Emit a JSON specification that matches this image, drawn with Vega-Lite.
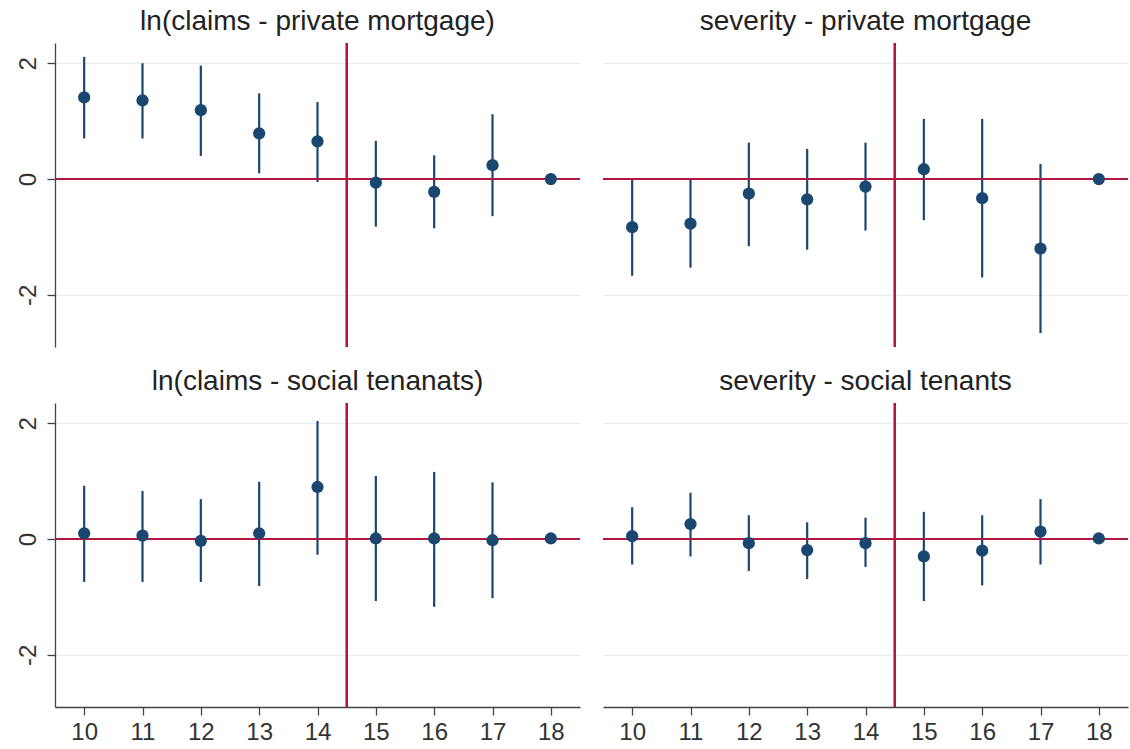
{
  "$schema": "https://vega.github.io/schema/vega-lite/v6.json",
  "autosize": {"type": "pad"},
  "padding": {"left": 16, "top": 8, "right": 0, "bottom": 0},
  "background": "white",
  "data": {"values": [
    {"p": 1, "t": 10, "b": 1.41, "lo": 0.70, "hi": 2.11},
    {"p": 1, "t": 11, "b": 1.36, "lo": 0.70, "hi": 2.00},
    {"p": 1, "t": 12, "b": 1.19, "lo": 0.40, "hi": 1.96},
    {"p": 1, "t": 13, "b": 0.79, "lo": 0.10, "hi": 1.48},
    {"p": 1, "t": 14, "b": 0.65, "lo": -0.05, "hi": 1.33},
    {"p": 1, "t": 15, "b": -0.06, "lo": -0.82, "hi": 0.66},
    {"p": 1, "t": 16, "b": -0.22, "lo": -0.85, "hi": 0.41},
    {"p": 1, "t": 17, "b": 0.24, "lo": -0.64, "hi": 1.12},
    {"p": 1, "t": 18, "b": 0.0, "lo": 0.0, "hi": 0.0},
    {"p": 2, "t": 10, "b": -0.83, "lo": -1.67, "hi": 0.00},
    {"p": 2, "t": 11, "b": -0.77, "lo": -1.53, "hi": 0.00},
    {"p": 2, "t": 12, "b": -0.25, "lo": -1.16, "hi": 0.63},
    {"p": 2, "t": 13, "b": -0.35, "lo": -1.22, "hi": 0.52},
    {"p": 2, "t": 14, "b": -0.13, "lo": -0.89, "hi": 0.63},
    {"p": 2, "t": 15, "b": 0.17, "lo": -0.71, "hi": 1.04},
    {"p": 2, "t": 16, "b": -0.33, "lo": -1.70, "hi": 1.04},
    {"p": 2, "t": 17, "b": -1.20, "lo": -2.66, "hi": 0.26},
    {"p": 2, "t": 18, "b": 0.0, "lo": 0.0, "hi": 0.0},
    {"p": 3, "t": 10, "b": 0.10, "lo": -0.74, "hi": 0.92},
    {"p": 3, "t": 11, "b": 0.06, "lo": -0.74, "hi": 0.83},
    {"p": 3, "t": 12, "b": -0.03, "lo": -0.74, "hi": 0.69},
    {"p": 3, "t": 13, "b": 0.10, "lo": -0.81, "hi": 0.99},
    {"p": 3, "t": 14, "b": 0.90, "lo": -0.27, "hi": 2.04},
    {"p": 3, "t": 15, "b": 0.01, "lo": -1.07, "hi": 1.09},
    {"p": 3, "t": 16, "b": 0.01, "lo": -1.17, "hi": 1.16},
    {"p": 3, "t": 17, "b": -0.02, "lo": -1.02, "hi": 0.98},
    {"p": 3, "t": 18, "b": 0.01, "lo": 0.01, "hi": 0.01},
    {"p": 4, "t": 10, "b": 0.05, "lo": -0.44, "hi": 0.55},
    {"p": 4, "t": 11, "b": 0.26, "lo": -0.30, "hi": 0.80},
    {"p": 4, "t": 12, "b": -0.07, "lo": -0.55, "hi": 0.41},
    {"p": 4, "t": 13, "b": -0.19, "lo": -0.69, "hi": 0.29},
    {"p": 4, "t": 14, "b": -0.07, "lo": -0.48, "hi": 0.37},
    {"p": 4, "t": 15, "b": -0.30, "lo": -1.07, "hi": 0.47},
    {"p": 4, "t": 16, "b": -0.20, "lo": -0.80, "hi": 0.41},
    {"p": 4, "t": 17, "b": 0.13, "lo": -0.44, "hi": 0.69},
    {"p": 4, "t": 18, "b": 0.01, "lo": 0.01, "hi": 0.01}
  ]},
  "columns": 2,
  "spacing": {"row": 20, "column": 21},
  "concat": [
    {
      "title": {"text": "ln(claims - private mortgage)"},
      "width": 525, "height": 304,
      "transform": [{"filter": "datum.p == 1"}],
      "layer": [
        {"mark": {"type": "rule", "color": "#1a476f", "strokeWidth": 2.2},
         "encoding": {
           "x": {"field": "t", "type": "quantitative", "scale": {"domain": [9.5, 18.5], "nice": false, "zero": false},
                 "axis": {"title": null, "domain": false, "ticks": false, "labels": false, "grid": false}},
           "y": {"field": "lo", "type": "quantitative", "scale": {"domain": [-2.9, 2.35], "nice": false, "zero": false},
                 "axis": {"values": [-2, 0, 2], "title": null, "labelExpr": "'' + datum.value", "labelAngle": -90, "labelAlign": "center", "labelBaseline": "bottom", "labelPadding": 7}},
           "y2": {"field": "hi"}
         }},
        {"mark": {"type": "rule", "color": "#b3173f", "strokeWidth": 1.5}, "encoding": {"y": {"datum": 0, "type": "quantitative"}}},
        {"mark": {"type": "rule", "color": "#b3173f", "strokeWidth": 1.5}, "encoding": {"x": {"datum": 14.5, "type": "quantitative"}}},
        {"mark": {"type": "point", "filled": true, "shape": "circle", "size": 150, "color": "#1a476f", "opacity": 1},
         "encoding": {"x": {"field": "t", "type": "quantitative"}, "y": {"field": "b", "type": "quantitative"}}}
      ]
    },
    {
      "title": {"text": "severity - private mortgage"},
      "width": 525, "height": 304,
      "transform": [{"filter": "datum.p == 2"}],
      "layer": [
        {"mark": {"type": "rule", "color": "#1a476f", "strokeWidth": 2.2},
         "encoding": {
           "x": {"field": "t", "type": "quantitative", "scale": {"domain": [9.5, 18.5], "nice": false, "zero": false},
                 "axis": {"title": null, "domain": false, "ticks": false, "labels": false, "grid": false}},
           "y": {"field": "lo", "type": "quantitative", "scale": {"domain": [-2.9, 2.35], "nice": false, "zero": false},
                 "axis": {"values": [-2, 0, 2], "title": null, "domain": false, "ticks": false, "labels": false}},
           "y2": {"field": "hi"}
         }},
        {"mark": {"type": "rule", "color": "#b3173f", "strokeWidth": 1.5}, "encoding": {"y": {"datum": 0, "type": "quantitative"}}},
        {"mark": {"type": "rule", "color": "#b3173f", "strokeWidth": 1.5}, "encoding": {"x": {"datum": 14.5, "type": "quantitative"}}},
        {"mark": {"type": "point", "filled": true, "shape": "circle", "size": 150, "color": "#1a476f", "opacity": 1},
         "encoding": {"x": {"field": "t", "type": "quantitative"}, "y": {"field": "b", "type": "quantitative"}}}
      ]
    },
    {
      "title": {"text": "ln(claims - social tenanats)"},
      "width": 525, "height": 304,
      "transform": [{"filter": "datum.p == 3"}],
      "layer": [
        {"mark": {"type": "rule", "color": "#1a476f", "strokeWidth": 2.2},
         "encoding": {
           "x": {"field": "t", "type": "quantitative", "scale": {"domain": [9.5, 18.5], "nice": false, "zero": false},
                 "axis": {"values": [10, 11, 12, 13, 14, 15, 16, 17, 18], "title": null, "grid": false, "labelExpr": "'' + datum.value", "labelPadding": 5}},
           "y": {"field": "lo", "type": "quantitative", "scale": {"domain": [-2.9, 2.35], "nice": false, "zero": false},
                 "axis": {"values": [-2, 0, 2], "title": null, "labelExpr": "'' + datum.value", "labelAngle": -90, "labelAlign": "center", "labelBaseline": "bottom", "labelPadding": 7}},
           "y2": {"field": "hi"}
         }},
        {"mark": {"type": "rule", "color": "#b3173f", "strokeWidth": 1.5}, "encoding": {"y": {"datum": 0, "type": "quantitative"}}},
        {"mark": {"type": "rule", "color": "#b3173f", "strokeWidth": 1.5}, "encoding": {"x": {"datum": 14.5, "type": "quantitative"}}},
        {"mark": {"type": "point", "filled": true, "shape": "circle", "size": 150, "color": "#1a476f", "opacity": 1},
         "encoding": {"x": {"field": "t", "type": "quantitative"}, "y": {"field": "b", "type": "quantitative"}}}
      ]
    },
    {
      "title": {"text": "severity - social tenants"},
      "width": 525, "height": 304,
      "transform": [{"filter": "datum.p == 4"}],
      "layer": [
        {"mark": {"type": "rule", "color": "#1a476f", "strokeWidth": 2.2},
         "encoding": {
           "x": {"field": "t", "type": "quantitative", "scale": {"domain": [9.5, 18.5], "nice": false, "zero": false},
                 "axis": {"values": [10, 11, 12, 13, 14, 15, 16, 17, 18], "title": null, "grid": false, "labelExpr": "'' + datum.value", "labelPadding": 5}},
           "y": {"field": "lo", "type": "quantitative", "scale": {"domain": [-2.9, 2.35], "nice": false, "zero": false},
                 "axis": {"values": [-2, 0, 2], "title": null, "domain": false, "ticks": false, "labels": false}},
           "y2": {"field": "hi"}
         }},
        {"mark": {"type": "rule", "color": "#b3173f", "strokeWidth": 1.5}, "encoding": {"y": {"datum": 0, "type": "quantitative"}}},
        {"mark": {"type": "rule", "color": "#b3173f", "strokeWidth": 1.5}, "encoding": {"x": {"datum": 14.5, "type": "quantitative"}}},
        {"mark": {"type": "point", "filled": true, "shape": "circle", "size": 150, "color": "#1a476f", "opacity": 1},
         "encoding": {"x": {"field": "t", "type": "quantitative"}, "y": {"field": "b", "type": "quantitative"}}}
      ]
    }
  ],
  "config": {
    "font": "Liberation Sans",
    "view": {"stroke": null},
    "title": {"fontSize": 28, "fontWeight": "normal", "color": "#222222", "font": "Liberation Sans", "offset": 6, "anchor": "middle"},
    "axis": {
      "labelFontSize": 24, "labelColor": "#333333", "labelFont": "Liberation Sans",
      "domainColor": "#444444", "domainWidth": 1.3,
      "tickColor": "#444444", "tickWidth": 1.3, "tickSize": 8,
      "gridColor": "#e6edee", "gridWidth": 1.2
    }
  }
}
